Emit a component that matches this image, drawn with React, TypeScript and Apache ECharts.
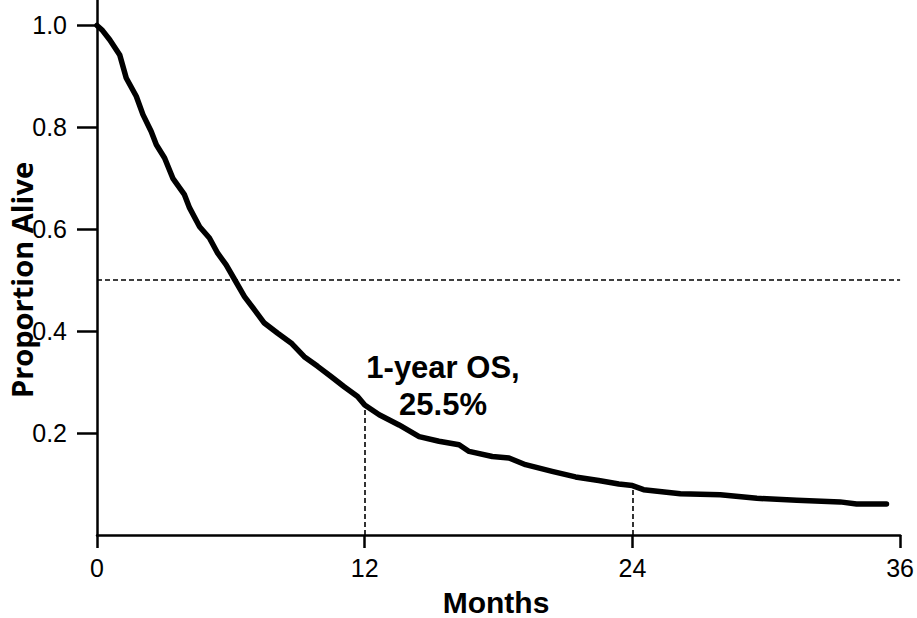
import React, { useEffect, useRef } from "react";
import * as echarts from "echarts";

const months = [0, 0.25, 0.57, 1.02, 1.31, 1.76, 2.06, 2.43, 2.66, 3.03, 3.4, 3.92, 4.15, 4.6, 5.04, 5.41, 5.79, 6.2, 6.61, 7.06, 7.5, 8.1, 8.7, 9.29, 9.89, 10.49, 11.08, 11.68, 12.0, 12.65, 13.54, 14.44, 15.33, 16.23, 16.68, 17.72, 18.47, 19.21, 20.4, 21.45, 22.49, 23.39, 24.0, 24.5, 26.15, 27.94, 29.58, 31.37, 33.31, 34.05, 35.39];
const survival = [1.0, 0.99, 0.972, 0.942, 0.897, 0.861, 0.825, 0.792, 0.766, 0.74, 0.7, 0.668, 0.642, 0.605, 0.583, 0.553, 0.53, 0.499, 0.468, 0.442, 0.416, 0.396, 0.377, 0.35, 0.331, 0.311, 0.291, 0.272, 0.255, 0.236, 0.216, 0.193, 0.184, 0.177, 0.164, 0.154, 0.151, 0.138, 0.125, 0.114, 0.107, 0.1, 0.097, 0.089, 0.081, 0.079, 0.072, 0.068, 0.065, 0.061, 0.061];

const xTicks = [0, 12, 24, 36];
const yTicks = [0.2, 0.4, 0.6, 0.8, 1.0];
const medianLevel = 0.5;
const landmarks = [
  { month: 12, value: 0.255 },
  { month: 24, value: 0.097 },
];
const annotationLines = ["1-year OS,", "25.5%"];
const xTitle = "Months";
const yTitle = "Proportion Alive";

export default function App() {
  const ref = useRef<HTMLDivElement>(null);
  useEffect(() => {
    if (!ref.current) return;
    const chart = echarts.init(ref.current, null, { renderer: "svg" });
    const font = "'Liberation Sans', Arial, sans-serif";
    const dash = [5, 3];
    chart.setOption({
      animation: false,
      backgroundColor: "#ffffff",
      grid: { left: 97, right: 15, top: 0, bottom: 83, containLabel: false },
      xAxis: {
        type: "value",
        min: 0,
        max: 36,
        interval: 12,
        axisLine: { show: true, onZero: false, lineStyle: { color: "#000", width: 2.5 } },
        axisTick: { show: true, length: 13, lineStyle: { color: "#000", width: 2.5 }, customValues: xTicks },
        axisLabel: { color: "#000", fontSize: 25, fontFamily: font, margin: 20, customValues: xTicks },
        splitLine: { show: false },
      },
      yAxis: {
        type: "value",
        min: 0,
        max: 1.05,
        interval: 0.2,
        axisLine: { show: true, onZero: false, lineStyle: { color: "#000", width: 2.5 } },
        axisTick: { show: true, length: 20, lineStyle: { color: "#000", width: 2.5 }, customValues: yTicks },
        axisLabel: {
          color: "#000",
          fontSize: 25,
          fontFamily: font,
          margin: 30,
          customValues: yTicks,
          formatter: (v: number) => v.toFixed(1),
        },
        splitLine: { show: false },
      },
      series: [
        {
          type: "line",
          data: months.map((m, i) => [m, survival[i]]),
          showSymbol: false,
          symbol: "none",
          lineStyle: { color: "#000", width: 5.5, join: "round", cap: "round" },
          z: 5,
          markLine: {
            silent: true,
            symbol: ["none", "none"],
            label: { show: false },
            lineStyle: { color: "#000", width: 1.6, type: dash },
            data: [
              { yAxis: medianLevel },
              ...landmarks.map((l) => [
                { coord: [l.month, 0] },
                { coord: [l.month, l.value] },
              ]),
            ],
          },
        },
      ],
      graphic: [
        {
          type: "text",
          x: 21,
          y: 280,
          rotation: Math.PI / 2,
          style: {
            text: yTitle,
            fill: "#000",
            font: "bold 29px 'Open Sans', sans-serif",
            textAlign: "center",
            textVerticalAlign: "middle",
          },
        },
        {
          type: "text",
          x: 496,
          y: 602.5,
          style: {
            text: xTitle,
            fill: "#000",
            font: `bold 30px ${font}`,
            textAlign: "center",
            textVerticalAlign: "middle",
          },
        },
        ...annotationLines.map((t, i) => ({
          type: "text",
          x: 443,
          y: 367 + i * 37,
          style: {
            text: t,
            fill: "#000",
            font: `bold 31px ${font}`,
            textAlign: "center",
            textVerticalAlign: "middle",
          },
        })),
      ],
    });
    return () => chart.dispose();
  }, []);
  return (
    <div
      ref={ref}
      style={{ position: "absolute", left: 0, top: 0, width: 917, height: 618 }}
    />
  );
}
